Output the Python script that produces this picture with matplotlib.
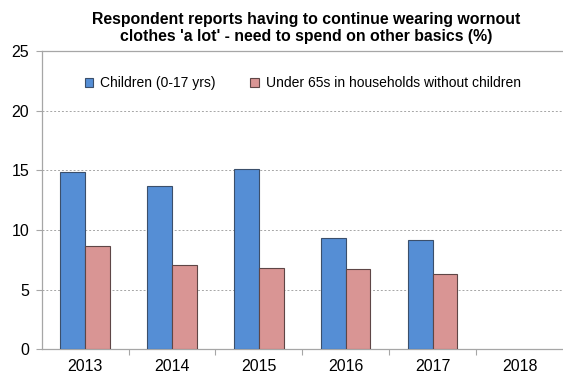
import matplotlib

matplotlib.use("Agg")

import matplotlib.pyplot as plt
import numpy as np

plt.rcParams["font.family"] = ["Liberation Sans", "DejaVu Sans"]

years = ["2013", "2014", "2015", "2016", "2017", "2018"]
children = [14.9, 13.7, 15.1, 9.3, 9.2, np.nan]
under65_no_children = [8.7, 7.1, 6.8, 6.7, 6.3, np.nan]
series_labels = ["Children (0-17 yrs)", "Under 65s in households without children"]
title = ("Respondent reports having to continue wearing wornout\n"
         "clothes 'a lot' - need to spend on other basics (%)")

_BLUE = "#558ed5"
_PINK = "#d99594"
_GRID = "#a6a6a6"
_WIDTH = 0.284

fig = plt.figure(figsize=(5.63, 3.76), dpi=100)
ax = fig.add_axes([0.074, 0.071, 0.926, 0.793])

x = np.arange(len(years))
ax.bar(x - _WIDTH / 2, children, _WIDTH, color=_BLUE, edgecolor="#3b4f6b",
       linewidth=0.8, zorder=3, label=series_labels[0])
ax.bar(x + _WIDTH / 2, under65_no_children, _WIDTH, color=_PINK, edgecolor="#5e4646",
       linewidth=0.8, zorder=3, label=series_labels[1])

ax.set_xlim(-0.5, len(years) - 0.5)
ax.set_ylim(0, 25)
ax.set_yticks(range(0, 26, 5))
ax.yaxis.grid(True, color=_GRID, linestyle=(0, (2, 2)), linewidth=0.7, zorder=0)

# category labels at centres, tick marks between categories
ax.set_xticks(x)
ax.set_xticklabels(years)
ax.set_xticks(np.arange(0.5, len(years) - 0.5), minor=True)
ax.tick_params(axis="x", which="major", length=0, pad=7, labelsize=11.5)
ax.tick_params(axis="x", which="minor", length=4, color=_GRID, width=0.8)
ax.tick_params(axis="y", length=4, color=_GRID, width=0.8, labelsize=11.5, pad=5)

for side in ("left", "bottom", "top"):
    ax.spines[side].set_color(_GRID)
    ax.spines[side].set_linewidth(0.9)
ax.spines["right"].set_visible(False)

ax.legend(loc="center left", bbox_to_anchor=(0.072, 0.893), ncol=2, frameon=False,
          fontsize=10, handlelength=0.6, handleheight=0.6, handletextpad=0.5,
          columnspacing=2.5, borderaxespad=0)

fig.text(0.543, 0.926, title, ha="center", va="center", fontsize=11.4,
         fontweight="bold", linespacing=1.15)

fig.savefig("out.png", dpi=100)
